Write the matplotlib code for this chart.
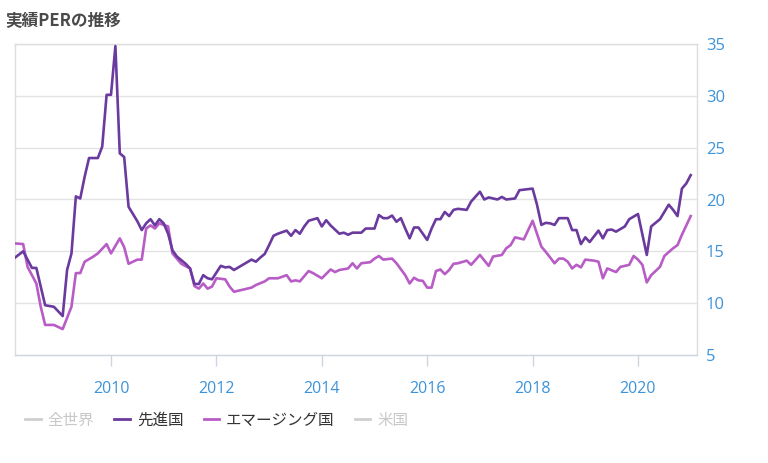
import matplotlib
matplotlib.use("Agg")
import matplotlib.pyplot as plt
from matplotlib.lines import Line2D

title = "実績PERの推移"
legend_labels = ["全世界", "先進国", "エマージング国", "米国"]
year_ticks = [2010, 2012, 2014, 2016, 2018, 2020]
y_ticks = [5, 10, 15, 20, 25, 30, 35]

dev_dates = ["2008-03", "2008-05", "2008-06", "2008-07", "2008-08", "2008-09", "2008-10", "2008-12",
             "2009-02", "2009-03", "2009-04", "2009-05", "2009-06", "2009-07", "2009-08", "2009-10",
             "2009-11", "2009-12", "2010-01", "2010-02", "2010-03", "2010-04", "2010-05", "2010-07",
             "2010-08", "2010-09", "2010-10", "2010-11", "2010-12", "2011-01", "2011-02", "2011-03",
             "2011-04", "2011-06", "2011-07", "2011-08", "2011-09", "2011-10", "2011-11", "2011-12",
             "2012-02", "2012-03", "2012-04", "2012-05", "2012-07", "2012-09", "2012-10", "2012-11",
             "2012-12", "2013-01", "2013-02", "2013-03", "2013-05", "2013-06", "2013-07", "2013-08",
             "2013-09", "2013-10", "2013-12", "2014-01", "2014-02", "2014-03", "2014-05", "2014-06",
             "2014-07", "2014-08", "2014-10", "2014-11", "2015-01", "2015-02", "2015-03", "2015-04",
             "2015-05", "2015-06", "2015-07", "2015-08", "2015-09", "2015-10", "2015-11", "2016-01",
             "2016-02", "2016-03", "2016-04", "2016-05", "2016-06", "2016-07", "2016-08", "2016-10",
             "2016-11", "2017-01", "2017-02", "2017-03", "2017-05", "2017-06", "2017-07", "2017-09",
             "2017-10", "2017-12", "2018-01", "2018-02", "2018-03", "2018-04", "2018-05", "2018-06",
             "2018-07", "2018-09", "2018-10", "2018-11", "2018-12", "2019-01", "2019-02", "2019-04",
             "2019-05", "2019-06", "2019-07", "2019-08", "2019-10", "2019-11", "2020-01", "2020-03",
             "2020-04", "2020-06", "2020-08", "2020-09", "2020-10", "2020-11", "2020-12", "2021-01"]
dev_values = [14.35, 15.0, 14.2, 13.4, 13.4, 11.6, 9.8, 9.65,
              8.76, 13.2, 14.8, 20.3, 20.1, 22.2, 24.0, 24.0,
              25.1, 30.1, 30.1, 34.8, 24.45, 24.1, 19.3, 17.9,
              17.05, 17.7, 18.1, 17.5, 18.1, 17.7, 16.7, 15.1,
              14.5, 13.8, 13.35, 11.85, 11.85, 12.7, 12.4, 12.3,
              13.6, 13.45, 13.5, 13.2, 13.7, 14.2, 14.0, 14.4,
              14.75, 15.6, 16.5, 16.7, 17.0, 16.5, 17.05, 16.7,
              17.4, 17.95, 18.2, 17.4, 18.0, 17.5, 16.7, 16.8,
              16.6, 16.8, 16.8, 17.2, 17.2, 18.5, 18.2, 18.2,
              18.45, 17.85, 18.2, 17.2, 16.25, 17.3, 17.3, 16.1,
              17.2, 18.1, 18.1, 18.8, 18.4, 19.0, 19.1, 19.0,
              19.8, 20.75, 20.0, 20.2, 20.0, 20.25, 20.0, 20.1,
              20.9, 21.0, 21.05, 19.5, 17.55, 17.75, 17.7, 17.55,
              18.2, 18.2, 17.05, 17.05, 15.7, 16.35, 15.9, 17.0,
              16.25, 17.05, 17.1, 16.9, 17.4, 18.1, 18.6, 14.65,
              17.4, 18.1, 19.5, 19.0, 18.4, 21.05, 21.55, 22.35]

em_dates = ["2008-03", "2008-05", "2008-06", "2008-08", "2008-09", "2008-10", "2008-12", "2009-02",
            "2009-04", "2009-05", "2009-06", "2009-07", "2009-09", "2009-10", "2009-12", "2010-01",
            "2010-03", "2010-04", "2010-05", "2010-07", "2010-08", "2010-09", "2010-10", "2010-11",
            "2010-12", "2011-02", "2011-03", "2011-05", "2011-07", "2011-08", "2011-09", "2011-10",
            "2011-11", "2011-12", "2012-01", "2012-03", "2012-04", "2012-05", "2012-07", "2012-09",
            "2012-10", "2012-12", "2013-01", "2013-03", "2013-04", "2013-05", "2013-06", "2013-07",
            "2013-08", "2013-10", "2013-11", "2014-01", "2014-03", "2014-04", "2014-05", "2014-07",
            "2014-08", "2014-09", "2014-10", "2014-12", "2015-01", "2015-02", "2015-03", "2015-05",
            "2015-06", "2015-08", "2015-09", "2015-10", "2015-11", "2015-12", "2016-01", "2016-02",
            "2016-03", "2016-04", "2016-05", "2016-06", "2016-07", "2016-08", "2016-10", "2016-11",
            "2017-01", "2017-03", "2017-04", "2017-06", "2017-07", "2017-08", "2017-09", "2017-11",
            "2017-12", "2018-01", "2018-02", "2018-03", "2018-04", "2018-06", "2018-07", "2018-08",
            "2018-09", "2018-10", "2018-11", "2018-12", "2019-01", "2019-03", "2019-04", "2019-05",
            "2019-06", "2019-08", "2019-09", "2019-11", "2019-12", "2020-01", "2020-02", "2020-03",
            "2020-04", "2020-06", "2020-07", "2020-09", "2020-10", "2020-11", "2021-01"]
em_values = [15.77, 15.7, 13.5, 11.9, 9.66, 7.9, 7.9, 7.5,
             9.66, 12.9, 12.9, 14.0, 14.5, 14.8, 15.7, 14.8,
             16.25, 15.4, 13.8, 14.2, 14.2, 17.2, 17.5, 17.2,
             17.7, 17.4, 14.8, 13.8, 13.35, 11.65, 11.4, 11.9,
             11.4, 11.6, 12.4, 12.3, 11.6, 11.1, 11.3, 11.5,
             11.75, 12.1, 12.4, 12.4, 12.55, 12.7, 12.1, 12.2,
             12.1, 13.1, 12.9, 12.4, 13.25, 13.0, 13.2, 13.35,
             13.85, 13.35, 13.85, 13.95, 14.3, 14.55, 14.2, 14.3,
             13.85, 12.7, 11.9, 12.45, 12.2, 12.15, 11.5, 11.5,
             13.1, 13.25, 12.8, 13.2, 13.8, 13.85, 14.1, 13.7,
             14.65, 13.6, 14.5, 14.65, 15.3, 15.6, 16.35, 16.15,
             17.05, 17.95, 16.7, 15.45, 14.95, 13.85, 14.3, 14.3,
             14.0, 13.35, 13.7, 13.45, 14.2, 14.1, 14.0, 12.4,
             13.35, 13.0, 13.5, 13.7, 14.55, 14.2, 13.7, 12.0,
             12.7, 13.5, 14.55, 15.3, 15.6, 16.6, 18.4]


def to_year(s):
    y, m = s.split("-")
    return int(y) + (int(m) - 1) / 12.0


dev_x = [to_year(d) for d in dev_dates]
em_x = [to_year(d) for d in em_dates]

c_dev = "#6b3a9e"
c_em = "#b85cc6"
c_off = "#cfcfcf"
c_tick = "#3d93d9"
c_grid = "#e3e3e3"

num_font = ["Open Sans", "DejaVu Sans"]
jp_font = ["Noto Sans CJK JP", "DejaVu Sans"]

fig = plt.figure(figsize=(7.68, 4.63), dpi=100)
ax = fig.add_axes([15 / 768, 1 - 355 / 463, (697 - 15) / 768, (355 - 44) / 463])

ax.plot(em_x, em_values, color=c_em, lw=1.9, solid_joinstyle="round", zorder=3)
ax.plot(dev_x, dev_values, color=c_dev, lw=1.9, solid_joinstyle="round", zorder=4)

ax.set_ylim(5, 35)
ax.set_xlim(2010 - 96 / 52.7, 2020 + 59 / 52.7)
ax.set_yticks(y_ticks)
ax.set_xticks(year_ticks)
ax.set_xticklabels([str(y) for y in year_ticks])
ax.yaxis.tick_right()
ax.grid(axis="y", color=c_grid, lw=1)
ax.set_axisbelow(True)
for side in ["left", "top", "right"]:
    ax.spines[side].set_color("#dddddd")
    ax.spines[side].set_linewidth(1)
ax.spines["bottom"].set_color("#ccd6e0")
ax.spines["bottom"].set_linewidth(1)
ax.tick_params(axis="y", length=0, pad=6.5, labelcolor=c_tick, labelsize=12)
ax.tick_params(axis="x", length=8, width=1, color="#ccd6e0", pad=11, labelcolor=c_tick, labelsize=11.5)
for lab in ax.get_xticklabels() + ax.get_yticklabels():
    lab.set_fontfamily(num_font)

fig.text(5 / 768, 1 - 21 / 463, title, fontsize=12, fontweight="bold", color="#4a4a4a",
         family=jp_font, va="center", ha="left")

handles = [Line2D([], [], color=c_off, lw=2),
           Line2D([], [], color=c_dev, lw=2),
           Line2D([], [], color=c_em, lw=2),
           Line2D([], [], color=c_off, lw=2)]
leg = fig.legend(handles, legend_labels, loc="center left", bbox_to_anchor=(11 / 768, 1 - 420 / 463),
                 ncol=4, frameon=False, handlelength=1.0, handletextpad=0.45, columnspacing=1.3,
                 prop={"family": jp_font, "size": 11.2})
text_colors = ["#c8c8c8", "#333333", "#333333", "#c8c8c8"]
for t, c in zip(leg.get_texts(), text_colors):
    t.set_color(c)

fig.savefig("out.png", dpi=100)
